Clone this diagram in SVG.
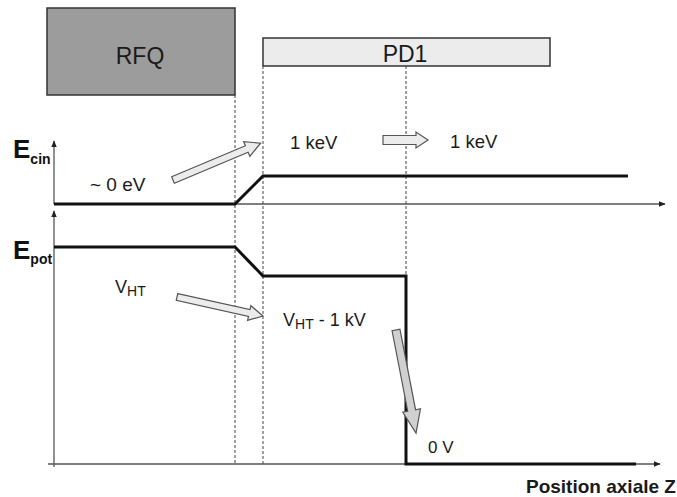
<svg xmlns="http://www.w3.org/2000/svg" width="677" height="497" viewBox="0 0 677 497">
<defs>
<style>
.box{stroke:#333;stroke-width:1.5}
.lbl{font-family:"Liberation Sans","DejaVu Sans",sans-serif;fill:#1a1a1a}
.ax{stroke:#555;stroke-width:1.3;fill:none}
.dash{stroke:#444;stroke-width:1;stroke-dasharray:3,2;fill:none}
.curve{stroke:#111;stroke-width:3;fill:none;stroke-linejoin:miter}
.barrow{fill:#ececec;stroke:#555;stroke-width:1.2}
.sym{font-family:"Liberation Sans","DejaVu Sans",sans-serif;font-weight:bold;fill:#111}
</style>
<marker id="ah" viewBox="0 0 10 10" refX="9" refY="5" markerWidth="7" markerHeight="7" orient="auto" markerUnits="userSpaceOnUse">
<path d="M0,1 L10,5 L0,9 z" fill="#222"/>
</marker>
</defs>
<rect width="677" height="497" fill="#fff"/>

<g id="rfq">
<rect class="box" x="47" y="8" width="188" height="87" fill="#9c9c9c"/>
<text class="lbl" x="140" y="64" font-size="23" text-anchor="middle">RFQ</text>
</g>
<g id="pd1">
<rect class="box" x="263" y="38" width="287" height="28" fill="#ececec"/>
<text class="lbl" x="405" y="62" font-size="23" text-anchor="middle">PD1</text>
</g>

<g id="guides">
<line class="dash" x1="235" y1="95" x2="235" y2="465"/>
<line class="dash" x1="263" y1="66" x2="263" y2="465"/>
<line class="dash" x1="406" y1="66" x2="406" y2="276"/>
</g>

<g id="axes">
<line class="ax" x1="54" y1="204" x2="54" y2="141" marker-end="url(#ah)"/>
<line class="ax" x1="54" y1="204" x2="665" y2="204" marker-end="url(#ah)"/>
<line class="ax" x1="54" y1="467" x2="54" y2="211" marker-end="url(#ah)"/>
<line class="ax" x1="48" y1="464" x2="660" y2="464" marker-end="url(#ah)"/>
</g>

<g id="ecin-curve">
<polyline class="curve" points="54,204 235,204 263,176 628,176"/>
</g>
<g id="epot-curve">
<polyline class="curve" points="54,247 235,247 263,276 406,276 406,464 636,464"/>
</g>

<g id="labels">
<text class="sym" x="13" y="158" font-size="26">E<tspan font-size="14" dy="6">cin</tspan></text>
<text class="sym" x="13" y="259" font-size="26">E<tspan font-size="14" dy="5">pot</tspan></text>
<text class="lbl" x="90" y="191" font-size="19">~ 0 eV</text>
<text class="lbl" x="290" y="149" font-size="18.5">1 keV</text>
<text class="lbl" x="450" y="148" font-size="18.5">1 keV</text>
<text class="lbl" x="115" y="293" font-size="18">V<tspan font-size="14" dy="3">HT</tspan></text>
<text class="lbl" x="283" y="326" font-size="18">V<tspan font-size="14" dy="3">HT</tspan><tspan dy="-3"> - 1 kV</tspan></text>
<text class="lbl" x="428" y="453" font-size="17">0 V</text>
<text class="lbl" x="526" y="493" font-size="19" font-weight="bold">Position axiale Z</text>
</g>

<g id="block-arrows">
<polygon class="barrow" transform="translate(173,180) rotate(-22.8)" points="0,-3.5 80,-3.5 80,-8 95,0 80,8 80,3.5 0,3.5"/>
<polygon class="barrow" transform="translate(383,140)" points="0,-4.5 33,-4.5 33,-8 45,0 33,8 33,4.5 0,4.5"/>
<polygon class="barrow" transform="translate(177,297) rotate(12.5)" points="0,-3.5 74,-3.5 74,-7.5 88,0 74,7.5 74,3.5 0,3.5"/>
<polygon class="barrow" style="fill:#d0d0d0" transform="translate(396,330) rotate(79)" points="0,-4 82,-4 82,-9 105,0 82,9 82,4 0,4"/>
</g>
</svg>
